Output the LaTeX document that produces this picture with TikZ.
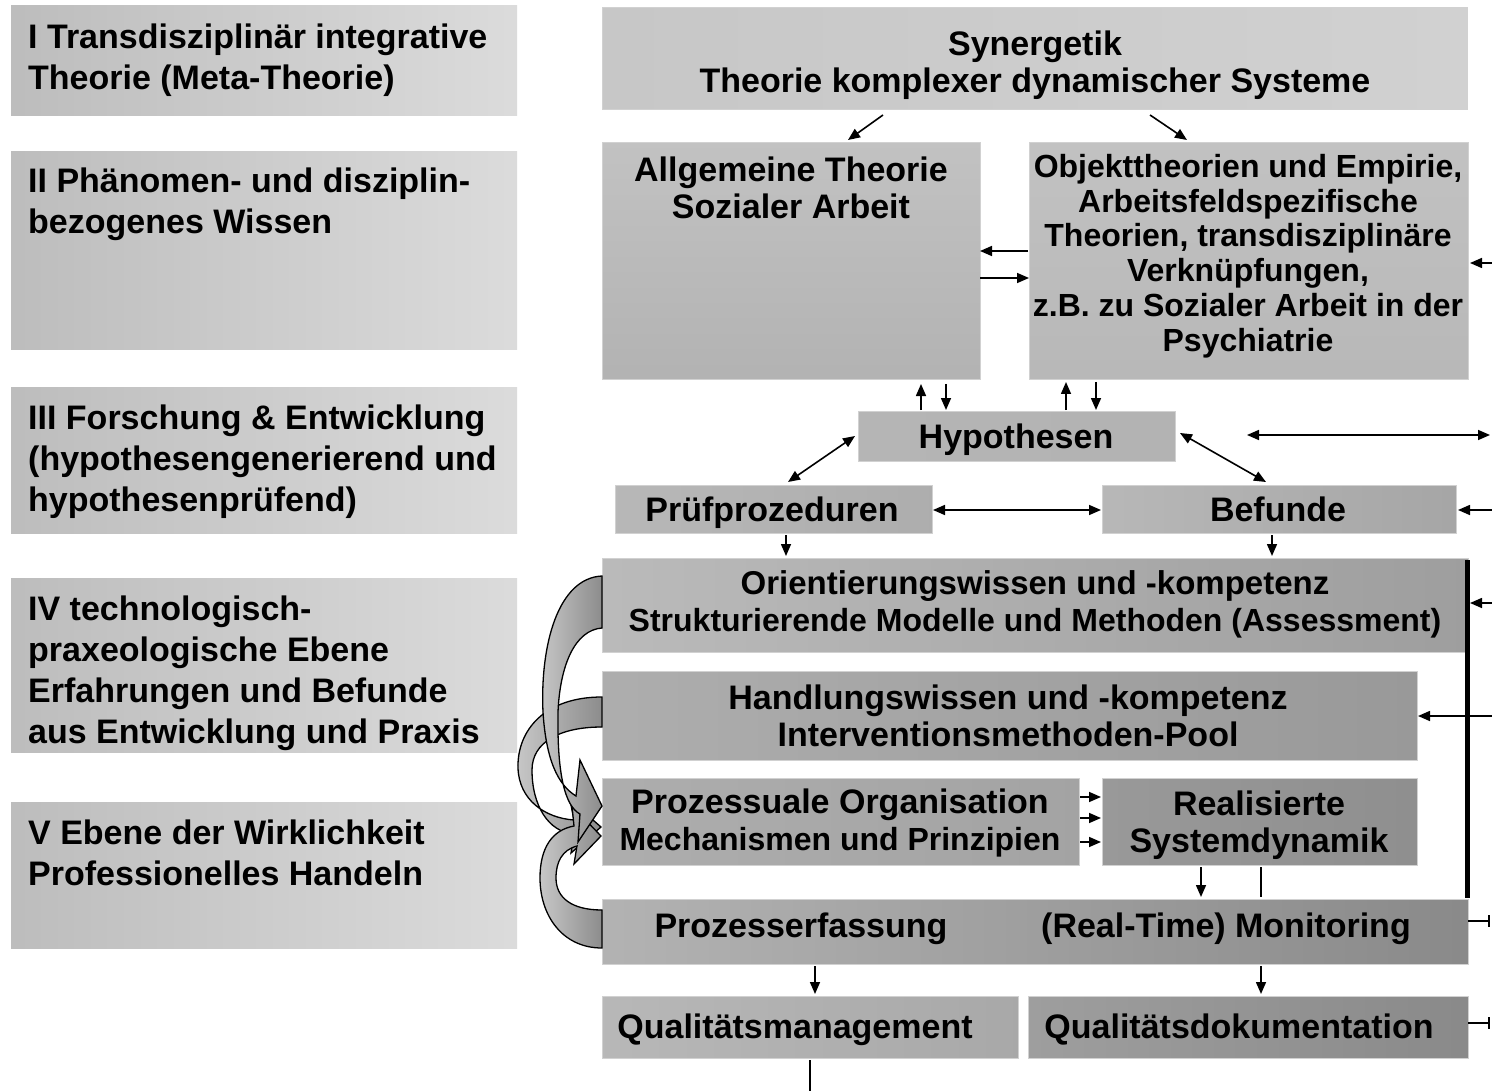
\documentclass[tikz,border=0pt]{standalone}
\usepackage{fontspec}
\setmainfont{Liberation Sans}
\usetikzlibrary{calc,arrows.meta}
\begin{document}
\begin{tikzpicture}[x=1pt,y=-1pt,
  >={Triangle[length=12pt,width=10pt]},
  lbox/.style={rectangle,inner sep=0,outer sep=0,left color=black!26,right color=black!14,draw=none},
  rbox/.style={rectangle,inner sep=0,outer sep=0,draw=black!18,line width=1pt},
  ltxt/.style={inner sep=0,align=left,anchor=west,font=\fontsize{34}{41}\selectfont\bfseries},
  rtxt/.style={inner sep=0,align=center,font=\fontsize{34}{37}\selectfont\bfseries},
  arr/.style={draw,line width=1.6pt},
  rib/.style={draw=black,line width=1.3pt,left color=black!22,right color=black!45},
]
\useasboundingbox[fill=white] (0,0) rectangle (1492,1091);

% ---------- left column ----------
\node[lbox,minimum width=506,minimum height=110] (l1) at (264,61) {};
\node[lbox,minimum width=506,minimum height=198] (l2) at (264,251) {};
\node[lbox,minimum width=506,minimum height=145] (l3) at (264,460.5) {};
\node[lbox,minimum width=506,minimum height=174] (l4) at (264,665) {};
\node[lbox,minimum width=506,minimum height=146] (l5) at (264,875) {};
\node[ltxt] (l1t) at (28,60.5) {I Transdisziplinär integrative\\Theorie (Meta-Theorie)};
\node[ltxt] (l2t) at (28,204) {II Phänomen- und disziplin-\\bezogenes Wissen};
\node[ltxt] (l3t) at (28,461.5) {III Forschung \& Entwicklung\\(hypothesengenerierend und\\hypothesenprüfend)};
\node[ltxt] (l4t) at (28,673) {IV technologisch-\\praxeologische Ebene\\Erfahrungen und Befunde\\aus Entwicklung und Praxis};
\node[ltxt] (l5t) at (28,853) {V Ebene der Wirklichkeit\\Professionelles Handeln};

% ---------- right column boxes ----------
\node[rbox,left color=black!22,right color=black!18,minimum width=865,minimum height=102] (syn) at (1034.5,59) {};
\node[rbox,top color=black!24,bottom color=black!30,minimum width=378,minimum height=237] (at) at (791,261.5) {};
\node[rbox,top color=black!24,bottom color=black!28,minimum width=439,minimum height=237] (ot) at (1248.5,261.5) {};
\node[rbox,left color=black!29,right color=black!30,minimum width=317,minimum height=50] (hyp) at (1016.5,436) {};
\node[rbox,left color=black!28,right color=black!32,minimum width=317,minimum height=48] (pruf) at (773.5,509) {};
\node[rbox,left color=black!28,right color=black!35,minimum width=354,minimum height=48] (bef) at (1279,509) {};
\node[rbox,left color=black!27,right color=black!38,minimum width=866,minimum height=94] (ori) at (1035,605) {};
\node[rbox,left color=black!32,right color=black!40,minimum width=815,minimum height=89] (hand) at (1009.5,715.5) {};
\node[rbox,left color=black!32,right color=black!36,minimum width=477,minimum height=87] (proz) at (840.5,821.5) {};
\node[rbox,left color=black!40,right color=black!44,minimum width=315,minimum height=87] (real) at (1259.5,821.5) {};
\node[rbox,left color=black!30,right color=black!46,minimum width=866,minimum height=65] (mon) at (1035,931.5) {};
\node[rbox,left color=black!28,right color=black!34,minimum width=416,minimum height=62] (qm) at (810,1027) {};
\node[rbox,left color=black!38,right color=black!46,minimum width=440,minimum height=62] (qd) at (1248,1027) {};

% ---------- texts ----------
\node[rtxt] (synt) at (1035,65) {Synergetik\\Theorie komplexer dynamischer Systeme};
\node[rtxt] (att) at (791,188) {Allgemeine Theorie\\Sozialer Arbeit};
\node[rtxt,font=\fontsize{32}{34.8}\selectfont\bfseries] (ott) at (1248,256) {Objekttheorien und Empirie,\\Arbeitsfeldspezifische\\Theorien, transdisziplinäre\\Verknüpfungen,\\z.B. zu Sozialer Arbeit in der\\Psychiatrie};
\node[rtxt] (hypt) at (1016,440) {Hypothesen};
\node[rtxt,text height=24pt,text depth=7pt] (pruft) at (772,513) {Prüfprozeduren};
\node[rtxt,text height=24pt,text depth=7pt] (beft) at (1278,513) {Befunde};
\node[rtxt] (orit) at (1035,604.5) {{\fontsize{33}{37}\selectfont Orientierungswissen und -kompetenz}\\{\fontsize{32}{37}\selectfont Strukturierende Modelle und Methoden (Assessment)}};
\node[rtxt] (handt) at (1008,716) {Handlungswissen und -kompetenz\\Interventionsmethoden-Pool};
\node[rtxt] (prozt) at (840,823) {Prozessuale Organisation\\{\fontsize{32}{37}\selectfont Mechanismen und Prinzipien}};
\node[rtxt] (realt) at (1259,825) {Realisierte\\Systemdynamik};
\node[rtxt,text height=24pt,text depth=7pt] (mont1) at (801,929) {Prozesserfassung};
\node[rtxt,text height=24pt,text depth=7pt] (mont2) at (1226,929) {(Real-Time) Monitoring};
\node[rtxt,text height=24pt,text depth=7pt] (qmt) at (795,1030) {Qualitätsmanagement};
\node[rtxt,text height=24pt,text depth=7pt] (qdt) at (1239,1030) {Qualitätsdokumentation};

% ---------- free ends ----------
\coordinate (e1) at (1492,263);
\coordinate (e2) at (1490,435);
\coordinate (e3) at (1492,510);
\coordinate (e4) at (1492,603);
\coordinate (e5) at (1492,716);
\coordinate (e6) at (1490,921);
\coordinate (e7) at (1490,1023);
\coordinate (e8) at (810,1091);

% ---------- connectors ----------
\draw[arr,->] ($(syn.south west)+(281,5)$) -- ($(at.north west)+(246,-3)$);
\draw[arr,->] ($(syn.south west)+(548,5)$) -- ($(ot.north west)+(158,-3)$);
\draw[arr,->] ($(ot.west)+(-1,-10.5)$) -- ($(at.east)+(0,-10.5)$);
\draw[arr,->] ($(at.east)+(0,16.5)$) -- ($(ot.west)+(0,16.5)$);
\draw[arr,->] (e1) -- ($(e1 -| ot.east)+(2,0)$);
\draw[arr,->] ($(hyp.north west)+(63,-1)$) -- ($(at.south west)+(319,4)$);
\draw[arr,->] ($(at.south west)+(344,4)$) -- ($(hyp.north west)+(88,-1)$);
\draw[arr,->] ($(hyp.north west)+(208,-1)$) -- ($(ot.south west)+(37,2)$);
\draw[arr,->] ($(ot.south west)+(67,2)$) -- ($(hyp.north west)+(238,-1)$);
\draw[arr,<->] ($(hyp.west)+(-3,0)$) -- ($(pruf.north west)+(173,-3)$);
\draw[arr,<->] ($(hyp.east)+(5,-3)$) -- ($(bef.north west)+(164,-3)$);
\draw[arr,<->] ($(hyp.east)+(72,-1)$) -- (e2);
\draw[arr,<->] ($(pruf.east)+(1,1)$) -- ($(bef.west)+(-1,1)$);
\draw[arr,->] (e3) -- ($(e3 -| bef.east)+(2,0)$);
\draw[arr,->] ($(pruf.south west)+(171,2)$) -- ($(ori.north west)+(184,-2)$);
\draw[arr,->] ($(bef.south west)+(170,2)$) -- ($(ori.north west)+(670,-2)$);
\draw[line width=5pt] ($(ori.north east)+(-1,2)$) -- ($(mon.north east)+(-1,-1)$);
\draw[arr,->] (e4) -- ($(e4 -| ori.east)+(2,0)$);
\draw[arr,->] (e5) -- ($(e5 -| hand.east)+(1,0)$);
\draw[arr,->] ($(proz.east)+(1,-24.5)$) -- ($(real.west)+(-1,-24.5)$);
\draw[arr,->] ($(proz.east)+(1,-3.5)$) -- ($(real.west)+(-1,-3.5)$);
\draw[arr,->] ($(proz.east)+(1,20.5)$) -- ($(real.west)+(-1,20.5)$);
\draw[arr,->] ($(real.south west)+(99,2)$) -- ($(mon.north west)+(599,-2)$);
\draw[arr] ($(real.south west)+(159,2)$) -- ($(mon.north west)+(659,-2)$);
\draw[arr,-{Bar[width=12pt]}] (e6 -| mon.east) -- (e6);
\draw[arr,-{Bar[width=12pt]}] (e7 -| qd.east) -- (e7);
\draw[arr,->] ($(mon.south west)+(213,2)$) -- ($(qm.north west)+(213,-2)$);
\draw[arr,->] ($(mon.south west)+(659,2)$) -- ($(qd.north west)+(233,-2)$);
\draw[arr] ($(qm.south west)+(208,2)$) -- (e8);

% ---------- curved ribbon arrows ----------
% from Handlungswissen
\filldraw[rib] (602,697) .. controls (545,697) and (517,730) .. (518,768)
  .. controls (519,800) and (545,818) .. (574,820)
  -- (570,800) -- (601,827) -- (571,853) -- (574,834)
  .. controls (548,832) and (532,805) .. (532,770)
  .. controls (532,742) and (560,727) .. (602,727) -- cycle;
% from Monitoring
\filldraw[rib] (602,948) .. controls (562,948) and (540,915) .. (540,878)
  .. controls (540,848) and (552,830) .. (574,826)
  -- (572,806) -- (601,836) -- (574,864) -- (577,846)
  .. controls (562,850) and (556,862) .. (556,878)
  .. controls (556,898) and (572,910) .. (602,910) -- cycle;
% from Orientierungswissen
\filldraw[rib] (602,576) .. controls (558,578) and (540,645) .. (543,712)
  .. controls (546,760) and (558,785) .. (576,796)
  -- (580,760) -- (602,806) -- (578,842) -- (580,814)
  .. controls (565,806) and (557,775) .. (558,712)
  .. controls (560,665) and (575,630) .. (602,628) -- cycle;
\end{tikzpicture}
\end{document}
